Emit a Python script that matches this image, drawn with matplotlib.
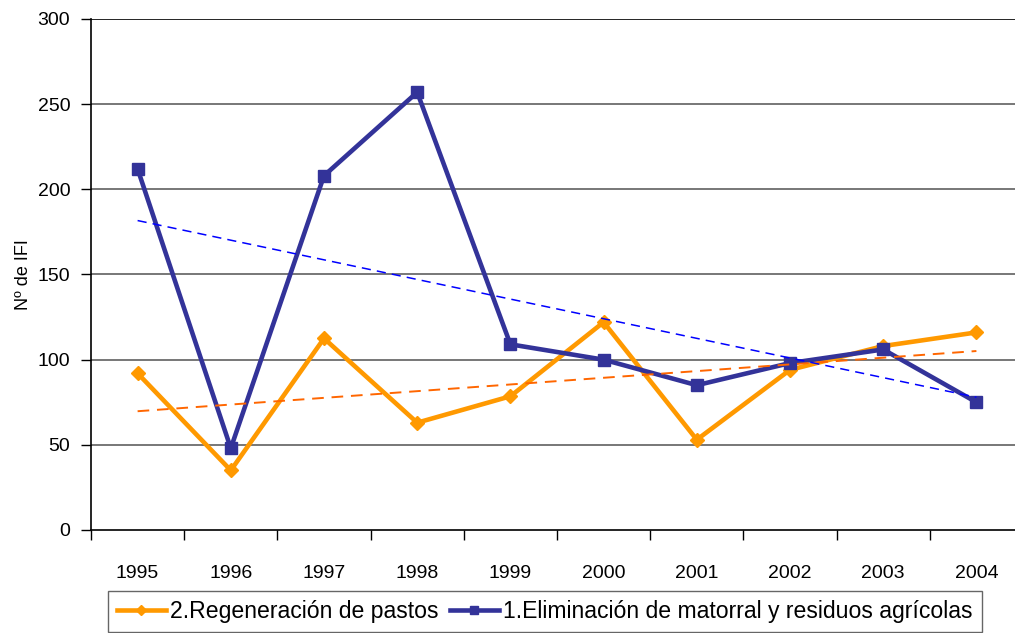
import numpy as np
import matplotlib.pyplot as plt
from matplotlib.ticker import FixedLocator, NullFormatter

plt.rcParams['font.family'] = ['Liberation Sans', 'DejaVu Sans']

years = ['1995', '1996', '1997', '1998', '1999', '2000', '2001', '2002', '2003', '2004']
pastos = [92, 35, 112.5, 63, 78.5, 122, 53, 94, 108, 116]
matorral = [212, 48, 208, 257, 109, 100, 85, 98, 106, 75]

x = np.arange(len(years))

fig = plt.figure(figsize=(10.15, 6.33), dpi=100)
ax = fig.add_axes([91 / 1015, 1 - 530 / 633, (1023 - 91) / 1015, (530 - 19) / 633])

# linear trend lines (as in the original spreadsheet chart)
p_fit = np.polyval(np.polyfit(x, pastos, 1), x)
m_fit = np.polyval(np.polyfit(x, matorral, 1), x)

l1, = ax.plot(x, pastos, color='#FF9900', lw=3.3, marker='D', ms=7,
              label='2.Regeneración de pastos', zorder=3)
l2, = ax.plot(x, matorral, color='#333399', lw=3.3, marker='s', ms=8,
              label='1.Eliminación de matorral y residuos agrícolas', zorder=4)
ax.plot(x, p_fit, color='#FF6600', lw=1.4, ls=(0, (6, 4)), zorder=5)
ax.plot(x, m_fit, color='#0000FF', lw=1.1, ls=(0, (6, 4)), zorder=5)

ax.set_xlim(-0.5, len(years) - 0.5)
ax.set_ylim(0, 300)
ax.set_yticks(range(0, 301, 50))
for v in range(50, 301, 50):
    ax.axhline(v, color='#606060' if v < 300 else '#000000', lw=1.2, zorder=1)

ax.xaxis.set_major_locator(FixedLocator(np.arange(-0.5, len(years), 1)))
ax.xaxis.set_major_formatter(NullFormatter())
ax.xaxis.set_minor_locator(FixedLocator(x))
ax.set_xticklabels(years, minor=True)
ax.tick_params(axis='x', which='major', length=7, width=1, direction='out')
ax.tick_params(axis='x', which='minor', length=0, pad=25, labelsize=14)
ax.tick_params(axis='y', length=7, width=1, direction='out', pad=8, labelsize=14)

for s in ['top', 'right']:
    ax.spines[s].set_visible(False)
ax.spines['left'].set_linewidth(1.2)
ax.spines['bottom'].set_linewidth(1.2)

ax.set_ylabel('Nº de IFI', fontsize=13, labelpad=4)

leg = fig.legend(handles=[l1, l2], loc='upper left', bbox_to_anchor=(108 / 1015, 1 - 591 / 633),
                 ncol=2, fontsize=16.6, frameon=True, fancybox=False, edgecolor='#404040',
                 handlelength=2.1, handletextpad=0.2, columnspacing=0.5, borderpad=0.4,
                 borderaxespad=0, markerscale=0.75)
leg.get_frame().set_linewidth(1.0)

fig.savefig('out.png', dpi=100)
